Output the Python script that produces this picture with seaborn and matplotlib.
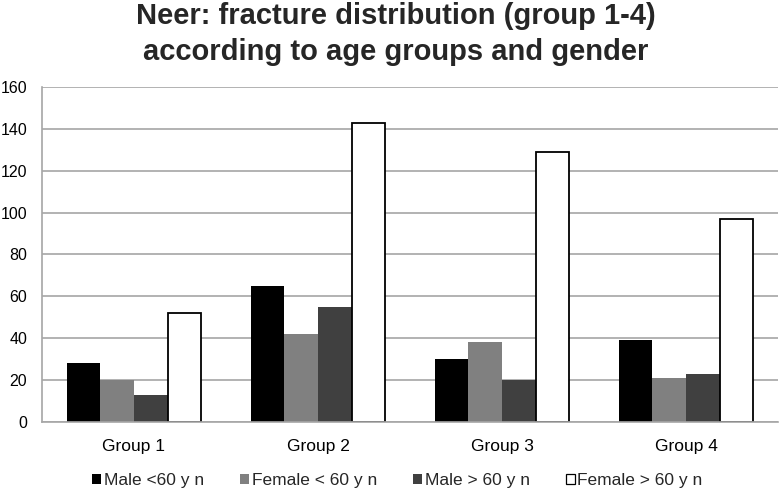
import pandas as pd
import matplotlib.pyplot as plt
import seaborn as sns

groups = ["Group 1", "Group 2", "Group 3", "Group 4"]
series = ["Male <60 y n", "Female < 60 y n", "Male > 60 y n", "Female > 60 y n"]
male_under60 = [28, 65, 30, 39]
female_under60 = [20, 42, 38, 21]
male_over60 = [13, 55, 20, 23]
female_over60 = [52, 143, 129, 97]
colors = ["#000000", "#808080", "#404040", "#ffffff"]

rows = []
for name, vals in zip(series, [male_under60, female_under60, male_over60, female_over60]):
    for g, v in zip(groups, vals):
        rows.append({"group": g, "series": name, "count": v})
df = pd.DataFrame(rows)

sns.set_style("white")
plt.rcParams["font.family"] = ["Liberation Sans", "DejaVu Sans"]

fig = plt.figure(figsize=(7.8, 4.9), dpi=100)
ax = fig.add_axes([42 / 780, 68 / 490, 736 / 780, 335 / 490])

sns.barplot(data=df, x="group", y="count", hue="series", palette=colors,
            hue_order=series, order=groups, width=0.73, saturation=1,
            linewidth=0, ax=ax)

# white series needs a black outline
for cont, col in zip(ax.containers, colors):
    for p in cont.patches:
        if col == "#ffffff":
            p.set_edgecolor("black")
            p.set_linewidth(1.3)
        else:
            p.set_edgecolor(col)
            p.set_linewidth(0)

ax.set_ylim(0, 160)
ax.set_yticks(range(0, 161, 20))
ax.set_xlim(-0.5, 3.5)
ax.yaxis.grid(True, color="#a6a6a6", linewidth=1.2)
ax.set_axisbelow(True)
ax.set_xlabel("")
ax.set_ylabel("")
for s in ["top", "right"]:
    ax.spines[s].set_visible(False)
for s in ["left", "bottom"]:
    ax.spines[s].set_color("#a6a6a6")
    ax.spines[s].set_linewidth(1.2)
ax.tick_params(axis="both", length=0, colors="black")
ax.tick_params(axis="y", pad=10.8, labelsize=11.5)
ax.tick_params(axis="x", pad=12, labelsize=12.5)

handles, labels = ax.get_legend_handles_labels()
handles[3].set_edgecolor("black")
handles[3].set_linewidth(0.9)
ax.legend(handles, labels, loc="center", bbox_to_anchor=(0.483, -0.176),
          ncol=4, frameon=False, fontsize=12.5, handlelength=0.5, handleheight=0.5,
          handletextpad=0.15, columnspacing=2.1)

fig.text(396 / 780, 1 - 24 / 490, "Neer: fracture distribution (group 1-4)",
         ha="center", va="baseline", fontsize=21, fontweight="bold")
fig.text(396 / 780, 1 - 60 / 490, "according to age groups and gender",
         ha="center", va="baseline", fontsize=21, fontweight="bold")

plt.savefig("out.png", dpi=100)
plt.close()
